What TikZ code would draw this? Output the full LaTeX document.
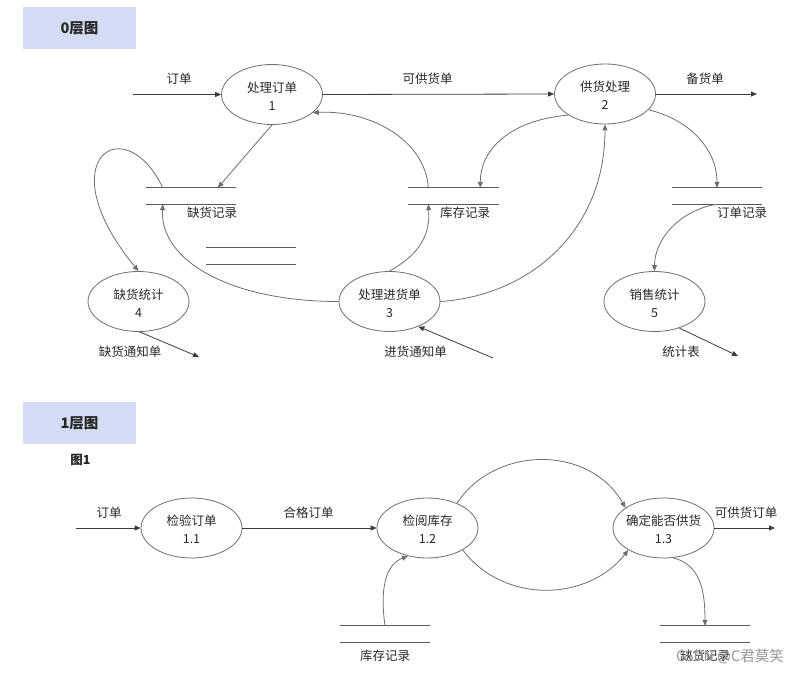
\documentclass[tikz,border=0pt]{standalone}
\usepackage{fontspec}
\setmainfont{Noto Sans CJK SC}
\usetikzlibrary{arrows.meta,shapes.geometric}
\definecolor{txt}{RGB}{40,40,40}
\definecolor{boxcol}{RGB}{211,220,242}
\definecolor{ellcol}{RGB}{110,110,110}
\definecolor{flowcol}{RGB}{60,60,60}
\definecolor{curvecol}{RGB}{110,110,110}
\definecolor{storecol}{RGB}{90,90,90}
\definecolor{wmark}{RGB}{150,150,150}
\begin{document}
\begin{tikzpicture}[x=1pt,y=-1pt,
  proc/.style={draw=ellcol, line width=0.8pt, ellipse, minimum width=101pt, minimum height=60pt, inner sep=0pt},
  ptext/.style={align=center, font=\fontsize{12.5}{18}\selectfont, text=txt, inner sep=0pt},
  store/.style={minimum width=90pt, minimum height=16pt, inner sep=0pt},
  storeline/.style={draw=storecol, line width=0.9pt},
  flow/.style={draw=flowcol, line width=0.8pt, -{Triangle[length=6pt,width=5pt]}},
  cflow/.style={flow, draw=curvecol},
  lbl/.style={font=\fontsize{12.5}{15}\selectfont, text=txt, inner sep=0pt},
  titlebox/.style={fill=boxcol, minimum width=113pt, minimum height=42pt, inner sep=0pt, font=\fontsize{14.5}{16}\selectfont\bfseries, text=txt}
]
\fill[white] (0,0) rectangle (804,674);
\useasboundingbox (0,0) rectangle (804,674);

% titles
\node[titlebox] (t0) at (79.5,28) {0层图};
\node[titlebox] (t1) at (79.5,423) {1层图};
\node[lbl, font=\fontsize{12.5}{15}\selectfont\bfseries] (fig1) at (80.5,460) {图1};

% ===== level 0 processes =====
\node[proc] (p1) at (272,94.5) {};
\node[ptext] (p1t) at ([yshift=-1.5pt]p1.center) {处理订单\\1};
\node[proc] (p2) at (605,94) {};
\node[ptext] (p2t) at ([yshift=-1.5pt]p2.center) {供货处理\\2};
\node[proc] (p3) at (389.5,301.5) {};
\node[ptext] (p3t) at ([yshift=-1.5pt]p3.center) {处理进货单\\3};
\node[proc] (p4) at (138.5,301.5) {};
\node[ptext] (p4t) at ([yshift=-1.5pt]p4.center) {缺货统计\\4};
\node[proc] (p5) at (654.5,301.5) {};
\node[ptext] (p5t) at ([yshift=-1.5pt]p5.center) {销售统计\\5};

% ===== level 0 stores =====
\node[store] (sq) at (191,196) {};
\node[store] (sk) at (453.5,196) {};
\node[store] (so) at (717,196) {};
\node[store] (sm) at (251,256) {};
\foreach \s in {sq,sk,so,sm}{
  \draw[storeline] (\s.north west) -- (\s.north east);
  \draw[storeline] (\s.south west) -- (\s.south east);
}
\node[lbl] (sqt) at (212,213) {缺货记录};
\node[lbl] (skt) at (465,213) {库存记录};
\node[lbl] (sot) at (742,213) {订单记录};

% ===== level 0 free ends =====
\coordinate (in0) at (133,94.5);
\coordinate (out0) at (757,94);
\coordinate (o4) at (199,357);
\coordinate (i3) at (493,358);
\coordinate (o5) at (738,356);

% ===== level 0 flows =====
\draw[flow] (in0) -- (p1.west);
\draw[flow] (p1.east) -- (p2.west);
\draw[flow] (p2.east) -- (out0);
\node[lbl] (l1) at (179,79) {订单};
\node[lbl] (l2) at (427.5,79) {可供货单};
\node[lbl] (l3) at (705,79) {备货单};

\draw[cflow] (p1.south) -- ([xshift=72pt]sq.north west);
\draw[cflow] ([xshift=17pt]sq.north west) .. controls +(-38,-80) and +(-92,-112) .. (p4.north);
\draw[cflow] (p3.west) .. controls +(-109,0) and +(-3,56) .. ([xshift=17pt]sq.south west);
\draw[cflow] (p3.north) .. controls +(30,-17) and +(2,31) .. ([xshift=20pt]sk.south west);
\draw[cflow] ([xshift=20pt]sk.north west) .. controls +(-3,-48) and +(57,-3) .. (p1.-24);
\draw[cflow] (p2.-150) .. controls +(-59,5) and +(0,-38) .. ([xshift=72pt]sk.north west);
\draw[cflow] (p3.east) .. controls +(90,-6) and +(0,106) .. (p2.south);
\draw[cflow] (p2.-20) .. controls +(42,10) and +(0,-38) .. (so.north);
\draw[cflow] (so.south) .. controls +(-37,6) and +(0,-32) .. (p5.north);

\draw[flow] (p4.-88) -- (o4);
\draw[flow] (i3) -- (p3.-41);
\draw[flow] (p5.-47) -- (o5);
\node[lbl] (l4) at (130,352) {缺货通知单};
\node[lbl] (l5) at (415.5,352) {进货通知单};
\node[lbl] (l6) at (681,352) {统计表};

% ===== level 1 =====
\node[proc] (q1) at (191.5,528) {};
\node[ptext] (q1t) at ([yshift=-1.5pt]q1.center) {检验订单\\1.1};
\node[proc] (q2) at (427.5,528) {};
\node[ptext] (q2t) at ([yshift=-1.5pt]q2.center) {检阅库存\\1.2};
\node[proc] (q3) at (663.5,528) {};
\node[ptext] (q3t) at ([yshift=-1.5pt]q3.center) {确定能否供货\\1.3};

\node[store] (qk) at (385,634) {};
\node[store] (qs) at (705,634) {};
\foreach \s in {qk,qs}{
  \draw[storeline] (\s.north west) -- (\s.north east);
  \draw[storeline] (\s.south west) -- (\s.south east);
}
\node[lbl] (qkt) at (385,656) {库存记录};
\node[lbl] (qst) at (705,656) {缺货记录};

\coordinate (in1) at (76,528);
\coordinate (out1) at (775,528);

\draw[flow] (in1) -- (q1.west);
\draw[flow] (q1.east) -- (q2.west);
\draw[flow] (q3.east) -- (out1);
\node[lbl] (m1) at (109,513) {订单};
\node[lbl] (m2) at (308.5,513) {合格订单};
\node[lbl] (m3) at (746,513) {可供货订单};

\draw[cflow] (q2.40) .. controls +(38,-58) and +(-36,-63) .. (q3.152);
\draw[cflow] (q2.-32) .. controls +(42,55) and +(-40,51) .. (q3.-148);
\draw[cflow] (q3.-72) .. controls +(27,7) and +(0,-36) .. (qs.north);
\draw[cflow] (qk.north) .. controls +(-5,-36) and +(-23,9) .. (q2.-125);

% watermark
\node[font=\fontsize{14.5}{16}\selectfont, text=wmark, inner sep=0pt] (wm) at (730,657) {CSDN @C君莫笑};
\end{tikzpicture}
\end{document}
